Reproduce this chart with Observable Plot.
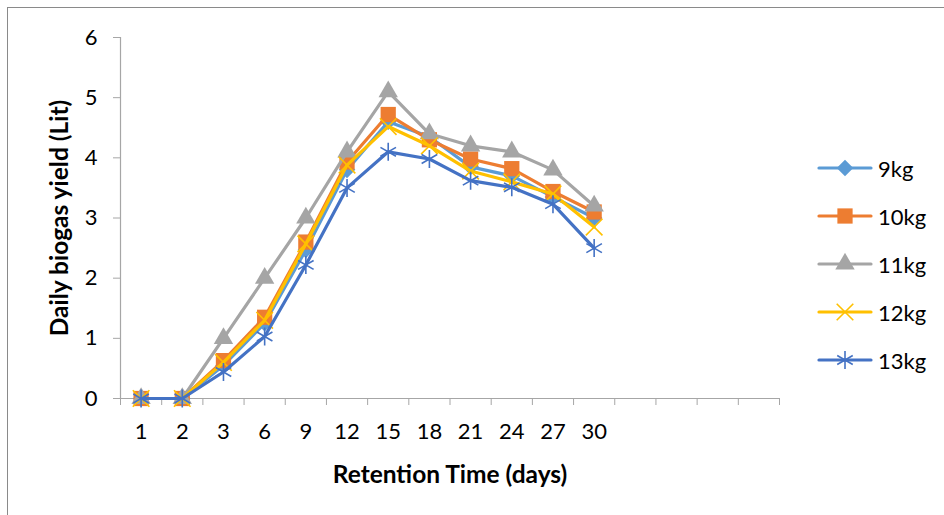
<!DOCTYPE html>
<html><head><meta charset="utf-8">
<script src="https://cdn.jsdelivr.net/npm/d3@7"></script>
<script src="https://cdn.jsdelivr.net/npm/@observablehq/plot@0.6"></script>
<style>
body{margin:0;background:#fff;}
#wrap{position:relative;width:944px;height:515px;overflow:hidden;font-family:Lato,sans-serif;background:#fff;}
#frame{position:absolute;left:7px;top:7px;width:1000px;height:600px;border-top:1.5px solid #8a8a8a;border-left:1.5px solid #8a8a8a;box-sizing:border-box;}
#chart{position:absolute;left:0;top:0;}
#legend{position:absolute;left:816px;top:144px;}
.item{display:flex;align-items:center;height:48px;font-size:22px;color:#000;}
.item svg{margin-right:4px;}
</style>
</head><body>
<div id="wrap"><div id="frame"></div><div id="chart"></div><div id="legend"></div></div>
<script>
// Categories (retention time, days) and the axis slot count from the reference
const days = ["1","2","3","6","9","12","15","18","21","24","27","30"];
const slots = 16;
const yTicks = [0,1,2,3,4,5,6];

// Daily biogas yield (Lit) per feed amount
const kg9  = [0,0,0.55,1.25,2.47,3.80,4.60,4.35,3.85,3.70,3.35,3.00];
const kg10 = [0,0,0.63,1.35,2.60,3.93,4.72,4.30,3.98,3.82,3.44,3.10];
const kg11 = [0,0,1.00,2.00,3.00,4.10,5.10,4.40,4.20,4.10,3.80,3.20];
const kg12 = [0,0,0.60,1.30,2.57,3.88,4.52,4.20,3.78,3.60,3.40,2.85];
const kg13 = [0,0,0.44,1.03,2.22,3.50,4.10,3.98,3.62,3.51,3.23,2.50];

const seriesNames = ["9kg","10kg","11kg","12kg","13kg"];
const seriesValues = [kg9,kg10,kg11,kg12,kg13];
const colors = ["#5B9BD5","#ED7D31","#A5A5A5","#FFC000","#4472C4"];
const symbols = ["square","square","triangle","times","asterisk"];
const rotates = [45,0,0,0,0];
const radii = [6.6,8.6,7.2,7.6,8.5];
const filled = [true,true,true,false,false];

const series = seriesNames.map((name,k) => ({
  name, color: colors[k],
  data: seriesValues[k].map((v,i) => ({x: i + 0.5, y: v}))
}));

const marks = [
  Plot.ruleY([0], {stroke:"#a6a6a6", strokeWidth:1.2}),
  Plot.ruleX([0], {stroke:"#a6a6a6", strokeWidth:1.2}),
  Plot.axisY(yTicks, {tickSize:7, tickPadding:16, stroke:"#a6a6a6", color:"#000", fontSize:22, label:null, tickFormat:d => String(d)}),
  Plot.axisX(d3.range(slots + 1), {tickSize:7, tickFormat:() => "", stroke:"#a6a6a6", label:null}),
  Plot.axisX(days.map((d,i) => i + 0.5), {tickSize:0, tickPadding:25, tickFormat:v => days[Math.round(v - 0.5)], color:"#000", fontSize:22, label:null}),
  Plot.text(["Retention Time (days)"], {frameAnchor:"bottom", dy:77, textAnchor:"middle", lineAnchor:"middle", fontWeight:"bold", fontSize:24.5, fill:"#000"}),
  Plot.text(["Daily biogas yield (Lit)"], {frameAnchor:"left", dx:-60, rotate:-90, textAnchor:"middle", lineAnchor:"middle", fontWeight:"bold", fontSize:24.5, fill:"#000"})
];
series.forEach((s,k) => {
  marks.push(Plot.line(s.data, {x:"x", y:"y", stroke:s.color, strokeWidth:3.2, curve:"linear"}));
  marks.push(Plot.dot(s.data, {x:"x", y:"y", symbol:symbols[k], r:radii[k], rotate:rotates[k],
    fill: filled[k] ? s.color : "none", stroke: s.color, strokeWidth: filled[k] ? 0 : 1.6}));
});

const chart = Plot.plot({
  width:944, height:515,
  marginLeft:120, marginRight:165, marginTop:37, marginBottom:117,
  x:{domain:[0, slots], axis:null},
  y:{domain:[0, 6], axis:null},
  style:{fontFamily:"Lato, sans-serif", fontSize:"22px", color:"#000", background:"transparent"},
  marks
});
document.getElementById("chart").appendChild(chart);

// Legend
const legend = d3.select("#legend");
series.forEach((s,k) => {
  const item = legend.append("div").attr("class","item");
  const svg = item.append("svg").attr("width",58).attr("height",24);
  svg.append("line").attr("x1",3).attr("x2",55).attr("y1",12).attr("y2",12)
    .attr("stroke",s.color).attr("stroke-width",3.2).attr("stroke-linecap","round");
  const symMap = {square:d3.symbolSquare, triangle:d3.symbolTriangle, times:d3.symbolTimes, asterisk:d3.symbolAsterisk};
  const r = radii[k];
  svg.append("path").attr("d", d3.symbol(symMap[symbols[k]], r*r*Math.PI)())
    .attr("transform", `translate(29,12) rotate(${rotates[k]})`)
    .attr("fill", filled[k] ? s.color : "none").attr("stroke", s.color)
    .attr("stroke-width", filled[k] ? 0 : 1.6);
  item.append("span").text(s.name);
});
</script>
</body></html>
